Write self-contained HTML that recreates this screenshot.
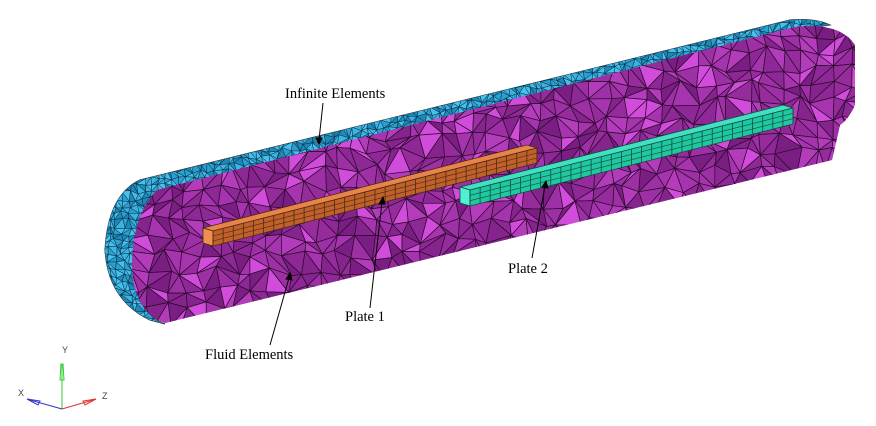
<!DOCTYPE html>
<html><head><meta charset="utf-8"><style>
html,body{margin:0;padding:0;background:#fff;width:876px;height:426px;overflow:hidden}
svg{display:block}
text{font-family:"Liberation Serif",serif;font-size:14.5px;fill:#000}
.ax{font-family:"Liberation Sans",sans-serif;font-size:9px;fill:#444}
</style></head><body>
<svg id="s" width="876" height="426" viewBox="0 0 876 426">
<defs>
<clipPath id="cm"><path d="M157,190 L795,27 Q840,22 855,45 L855,105 Q848,120 840,125 L832,160 L165,323 Q140,315 133,280 Q128,220 157,190 Z"/></clipPath>
<clipPath id="cb"><path d="M140,180 L790,20 Q815,18 830,25 L795,30 L157,192 Q128,222 133,280 Q140,315 165,324 L150,320 Q108,300 105,250 Q108,195 140,180 Z"/></clipPath>
</defs>
<path d="M140,180 L790,20 Q815,18 830,25 L795,30 L157,192 Q128,222 133,280 Q140,315 165,324 L150,320 Q108,300 105,250 Q108,195 140,180 Z" fill="#2aa0d0" stroke="#222" stroke-width="1"/>
<g id="bl" clip-path="url(#cb)"></g>
<path d="M157,190 L795,27 Q840,22 855,45 L855,105 Q848,120 840,125 L832,160 L165,323 Q140,315 133,280 Q128,220 157,190 Z" fill="#962c9c"/>
<g id="mg" clip-path="url(#cm)"></g>
<polygon points="203,228 527,145 537,148 213,231" fill="#e8844a" stroke="#4a2a10" stroke-width="0.8"/>
<polygon points="203,228 213,231 213,246 203,243" fill="#f09050" stroke="#4a2a10" stroke-width="0.8"/>
<polygon points="213,231 537,148 537,163 213,246" fill="#c0602a" stroke="#4a2a10" stroke-width="0.8"/>
<g id="op"></g>
<polygon points="460,187 783,105 793,108 470,190" fill="#40e0c0" stroke="#104a40" stroke-width="0.8"/>
<polygon points="460,187 470,190 470,206 460,203" fill="#50f0d0" stroke="#104a40" stroke-width="0.8"/>
<polygon points="470,190 793,108 793,124 470,206" fill="#20c8a0" stroke="#104a40" stroke-width="0.8"/>
<g id="gp"></g>
<g stroke="#000" stroke-width="1" fill="#000">
<line x1="323" y1="103" x2="319" y2="140"/><polygon points="316,138 322,138 319,144"/>
<line x1="370" y1="308" x2="382" y2="202"/><polygon points="379,204 385,204 383,197"/>
<line x1="532" y1="258" x2="545" y2="186"/><polygon points="542,187 548,188 546,181"/>
<line x1="270" y1="345" x2="289" y2="278"/><polygon points="286,279 292,280 290,273"/>
</g>
<text x="285" y="98">Infinite Elements</text>
<text x="345" y="321">Plate 1</text>
<text x="508" y="273">Plate 2</text>
<text x="205" y="359">Fluid Elements</text>
<line x1="62" y1="409" x2="62" y2="364" stroke="#3c3" stroke-width="1"/>
<polygon points="60,380 64,380 63,364 61,364" fill="none" stroke="#3c3"/>
<line x1="62" y1="409" x2="30" y2="400" stroke="#33c" stroke-width="1"/>
<polygon points="27,399 40,401 38,405" fill="none" stroke="#33c"/>
<line x1="62" y1="409" x2="93" y2="400" stroke="#d33" stroke-width="1"/>
<polygon points="96,399 83,401 85,405" fill="none" stroke="#d33"/>
<text class="ax" x="62" y="353">Y</text>
<text class="ax" x="18" y="396">X</text>
<text class="ax" x="102" y="399">Z</text>
</svg>
<script>
var NS="http://www.w3.org/2000/svg";
var seed=7;function r(){seed=(seed*16807)%2147483647;return seed/2147483647;}
function tri(g,cols,x0,y0,w,h,step,sw,stroke){
 var pts=[];var nx=Math.ceil(w/step)+1,ny=Math.ceil(h/step)+1;
 for(var j=0;j<ny;j++){pts[j]=[];for(var i=0;i<nx;i++){pts[j][i]=[x0+i*step+(r()-.5)*step*.7,y0+j*step+(r()-.5)*step*.7];}}
 for(var j=0;j<ny-1;j++)for(var i=0;i<nx-1;i++){
  var a=pts[j][i],b=pts[j][i+1],c=pts[j+1][i],d=pts[j+1][i+1];
  var sets=r()<.5?[[a,b,d],[a,d,c]]:[[a,b,c],[b,d,c]];
  sets.forEach(function(t){var p=document.createElementNS(NS,"polygon");
   p.setAttribute("points",t.map(function(q){return q[0].toFixed(1)+","+q[1].toFixed(1)}).join(" "));
   p.setAttribute("fill",cols[Math.floor(r()*cols.length)]);p.setAttribute("stroke",stroke);p.setAttribute("stroke-width",sw);g.appendChild(p);});
 }
}
tri(document.getElementById("mg"),["#962c9c","#86248e","#a634ae","#b23cba","#7a1e84","#9e30a6","#d24cdc","#8e2896"],100,0,780,340,17,0.7,"#2a0a2a");
tri(document.getElementById("bl"),["#2aa0d0","#3ab4e0","#1e88b8","#48c0ec"],95,10,760,320,7,0.5,"#0a2a40");
function seg(id,x0,y0,x1,y1,n,h,col){var g=document.getElementById(id);
 for(var k=0;k<=n;k++){var t=k/n,x=x0+(x1-x0)*t,y=y0+(y1-y0)*t;var l=document.createElementNS(NS,"line");
 l.setAttribute("x1",x);l.setAttribute("y1",y);l.setAttribute("x2",x);l.setAttribute("y2",y+h);l.setAttribute("stroke",col);l.setAttribute("stroke-width","0.8");g.appendChild(l);}
 for(var m=1;m<3;m++){var l=document.createElementNS(NS,"line");l.setAttribute("x1",x0);l.setAttribute("y1",y0+h*m/3);l.setAttribute("x2",x1);l.setAttribute("y2",y1+h*m/3);l.setAttribute("stroke",col);l.setAttribute("stroke-width","0.6");g.appendChild(l);}}
seg("op",213,231,537,148,32,15,"#4a2a10");
seg("gp",470,190,793,108,32,16,"#104a40");
</script>
</body></html>
